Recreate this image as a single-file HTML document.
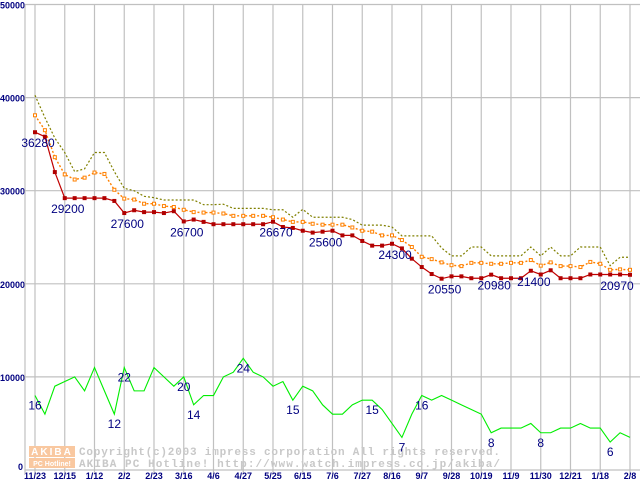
<!DOCTYPE html>
<html><head><meta charset="utf-8"><style>
html,body{margin:0;padding:0;background:#fff;}
svg{display:block;}
</style></head><body>
<svg id="chart" width="640" height="480" viewBox="0 0 640 480" xmlns="http://www.w3.org/2000/svg">
<g id="grid"></g>
<g id="watermark">
 <rect x="29" y="446" width="46" height="11" fill="#f9c8a0"/>
 <rect x="29" y="458" width="46" height="10" fill="#f9c8a0"/>
 <text x="52" y="455" font-family="Liberation Sans, sans-serif" font-weight="bold" font-size="10" fill="#fff" text-anchor="middle" letter-spacing="2">AKIBA</text>
 <text x="52" y="466" font-family="Liberation Sans, sans-serif" font-weight="bold" font-size="7" fill="#fff" text-anchor="middle">PC Hotline!</text>
 <text x="79" y="455" textLength="421" lengthAdjust="spacing" font-family="Liberation Mono, monospace" font-weight="bold" font-size="11" fill="#c8c8c8">Copyright(c)2003 impress corporation All rights reserved.</text>
 <text x="79" y="467" textLength="421" lengthAdjust="spacing" font-family="Liberation Mono, monospace" font-weight="bold" font-size="11" fill="#c8c8c8">AKIBA PC Hotline!  http://www.watch.impress.co.jp/akiba/</text>
</g>
<g id="series"></g>
<g id="labels"></g>
</svg>
<script>
const xLabels = ["11/23","12/15","1/12","2/2","2/23","3/16","4/6","4/27","5/25","6/15","7/6","7/27","8/16","9/7","9/28","10/19","11/9","11/30","12/21","1/18","2/8"];
const yTicks = [0,10000,20000,30000,40000,50000];
const maxPrice = [40250,37850,35650,34100,32050,32350,34100,34100,32050,30250,30000,29400,29250,29000,29000,29000,29000,28500,28500,28550,28100,28100,28100,28100,27950,27950,27150,28000,27150,27150,27150,27150,26900,26300,26300,26300,26100,25150,25150,25150,25150,23850,23000,23000,23950,23950,23000,23000,23000,23000,23950,23000,23950,23000,23000,23950,23950,23950,21950,22850,22850];
const avgPrice = [38100,36500,33600,31750,31200,31400,31950,31800,30100,29150,29050,28600,28600,28350,28250,27950,27700,27650,27650,27550,27300,27300,27300,27300,27150,26900,26650,26650,26450,26350,26350,26350,26050,25700,25600,25200,25200,24700,23950,22900,22650,22300,22000,21900,22250,22250,22150,22150,22250,22250,22550,21950,22300,21900,21900,21800,22350,22150,21500,21550,21500];
const minPrice = [36280,35800,32000,29200,29200,29200,29200,29200,28900,27600,27900,27700,27700,27600,27800,26700,26900,26650,26400,26400,26400,26400,26400,26400,26670,26100,26000,25700,25500,25600,25700,25200,25200,24600,24100,24100,24300,23800,22700,21800,21050,20550,20800,20800,20600,20600,20980,20600,20600,20600,21400,21000,21450,20600,20600,20600,21000,21000,21000,21000,20970];
const shopCount = [16,12,18,19,20,17,22,17,12,22,17,17,22,20,18,20,14,16,16,20,21,24,21,20,18,19,15,18,17,14,12,12,14,15,15,13,10,7,12,16,15,16,15,14,13,12,8,9,9,9,10,8,8,9,9,10,9,9,6,8,7];
const minLabelIdx = [0,3,9,15,24,29,36,41,46,50,60];
const countLabelIdx = [0,8,9,15,16,21,26,34,37,39,46,51,58];

const NS="http://www.w3.org/2000/svg";
const X0=35, X1=630, Y0=470, YTOP=4.5, YMAX=50000, AXL=25;
const N=minPrice.length;
function xs(i){return X0+(X1-X0)*i/(N-1);}
function ys(v){return Y0-(Y0-YTOP)*v/YMAX;}
function mk(tag,attrs,parent){const e=document.createElementNS(NS,tag);for(const k in attrs)e.setAttribute(k,attrs[k]);parent.appendChild(e);return e;}
const grid=document.getElementById('grid'), ser=document.getElementById('series'), lab=document.getElementById('labels');

yTicks.forEach(function(t){
  const y=ys(t);
  if(t>0){
    const l=mk('line',{x1:AXL,x2:640,y1:y,y2:y,stroke:'#c0c0c0','stroke-width':1.2},grid);
    
    
  }
  const tx=mk('text',{x:t===0?18:0,y:t===0?Y0:y+4,'font-family':'Liberation Sans, sans-serif','font-weight':'bold','font-size':9,fill:'#000080'},grid);
  tx.textContent=String(t);
  
  
});
xLabels.forEach(function(s,k){
  const x=xs(k*3);
  const l=mk('line',{x1:x,x2:x,y1:YTOP,y2:Y0+4,stroke:'#c0c0c0','stroke-width':1.2},grid);
  
  
  const tx=mk('text',{x:Math.min(x,630),y:479,'text-anchor':'middle','font-family':'Liberation Sans, sans-serif','font-weight':'bold','font-size':9,fill:'#000080'},grid);
  tx.textContent=s;
  
  
});
const ax=mk('line',{x1:AXL,x2:AXL,y1:YTOP,y2:Y0+4,stroke:'#c0c0c0','stroke-width':1.2},grid);


const bx=mk('line',{x1:AXL,x2:640,y1:Y0,y2:Y0,stroke:'#c0c0c0','stroke-width':1.2},grid);



function pts(arr,f){return arr.map(function(v,i){return xs(i)+','+ys(f?f(v):v);}).join(' ');}
const gl=mk('polyline',{points:pts(shopCount,function(c){return c*500;}),fill:'none',stroke:'#00ee00','stroke-width':1.1},ser);


const ol=mk('polyline',{points:pts(maxPrice),fill:'none',stroke:'#808000','stroke-width':1.2,'stroke-dasharray':'2,2'},ser);


const al=mk('polyline',{points:pts(avgPrice),fill:'none',stroke:'#ff8000','stroke-width':1.4,'stroke-dasharray':'2,2'},ser);


avgPrice.forEach(function(v,i){
  const r=mk('rect',{x:xs(i)-1.5,y:ys(v)-1.5,width:3,height:3,fill:'#fff',stroke:'#ff8000','stroke-width':1},ser);
  
  
});
const rl=mk('polyline',{points:pts(minPrice),fill:'none',stroke:'#c00000','stroke-width':1.2},ser);


minPrice.forEach(function(v,i){
  const r=mk('rect',{x:xs(i)-2,y:ys(v)-2,width:4,height:4,fill:'#b00000'},ser);
  
  
});
minLabelIdx.forEach(function(i){
  const x=Math.min(Math.max(xs(i)+3,19),617);
  const t=mk('text',{x:x,y:ys(minPrice[i])+15,'text-anchor':'middle','font-family':'Liberation Sans, sans-serif','font-size':12,fill:'#000080'},lab);
  t.textContent=String(minPrice[i]);
  
  
});
countLabelIdx.forEach(function(i){
  const t=mk('text',{x:xs(i),y:ys(shopCount[i]*500)+14,'text-anchor':'middle','font-family':'Liberation Sans, sans-serif','font-size':12,fill:'#000080'},lab);
  t.textContent=String(shopCount[i]);
  
  
});
</script>
</body></html>
